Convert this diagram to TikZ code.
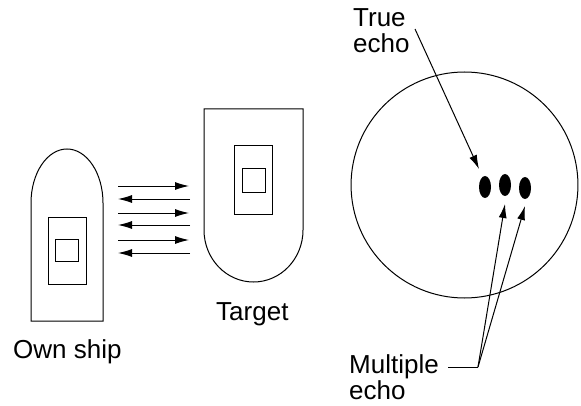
\documentclass[tikz,border=0pt]{standalone}
\usepackage{fontspec}
\setmainfont{Liberation Sans}
\usetikzlibrary{arrows.meta,shapes.geometric}
\tikzset{
	box/.style={rectangle, draw=black, line width=1pt, inner sep=0pt},
	blob/.style={ellipse, fill=black, inner sep=0pt, minimum width=12pt, minimum height=22pt},
	label/.style={inner sep=0pt, align=left, font=\fontsize{26}{26}\selectfont},
	arrow/.style={-{Latex[length=14pt, width=8pt]}, line width=1pt}
}
\begin{document}
\begin{tikzpicture}[x=1pt, y=1pt]
	\useasboundingbox (0,0) rectangle (581,405);
	\draw [line width=1pt] (31,84) -- (31,202) arc[start angle=180, end angle=0, x radius=36, y radius=54] -- (103,84) -- cycle;
	\draw [line width=1pt] (204,296) -- (204,175) arc[start angle=180, end angle=360, x radius=49.5, y radius=52] -- (303,296) -- cycle;
	\node[box, minimum width=38pt, minimum height=67pt](ownouter) at (67.5,154.5){};
	\node[box, minimum width=23pt, minimum height=22pt](owninner) at (67,155){};
	\node[box, minimum width=38pt, minimum height=68pt](targetouter) at (253,225){};
	\node[box, minimum width=23pt, minimum height=23pt](targetinner) at (254,224.5){};
	\coordinate (outa) at (118,219);
	\coordinate (ina) at (189,219);
	\coordinate (backa) at (190,206);
	\coordinate (enda) at (118,206);
	\coordinate (outb) at (118,192);
	\coordinate (inb) at (189,192);
	\coordinate (backb) at (190,180);
	\coordinate (endb) at (118,180);
	\coordinate (outc) at (118,165);
	\coordinate (inc) at (189,165);
	\coordinate (backc) at (190,152);
	\coordinate (endc) at (118,152);
	\draw [arrow] (outa) -- (ina);
	\draw [arrow] (backa) -- (enda);
	\draw [arrow] (outb) -- (inb);
	\draw [arrow] (backb) -- (endb);
	\draw [arrow] (outc) -- (inc);
	\draw [arrow] (backc) -- (endc);
	\node[label, anchor=base west](own) at (13,47){Own ship};
	\node[label, anchor=base west](target) at (216,85){Target};
	\node[circle, draw=black, line width=1pt, inner sep=0pt, minimum size=226pt, xscale=1.004](scope) at (464.5,220){};
	\node[blob](first) at (485,218){};
	\node[blob](second) at (505,220){};
	\node[blob](third) at (525,217){};
	\node[label, anchor=north west](true) at (353,397){True\\echo};
	\node[label, anchor=south west](multiple) at (349,5){Multiple\\echo};
	\coordinate (truestart) at (415,376);
	\coordinate (trueend) at (479,236);
	\coordinate (joint) at (478,38);
	\coordinate (secondend) at (505,201);
	\coordinate (thirdend) at (525,199);
	\coordinate (multistart) at (448,38);
	\draw [arrow] (truestart) -- (trueend);
	\draw [line width=1pt] (multistart) -- (joint);
	\draw [arrow] (joint) -- (secondend);
	\draw [arrow] (joint) -- (thirdend);
\end{tikzpicture}
\end{document}
